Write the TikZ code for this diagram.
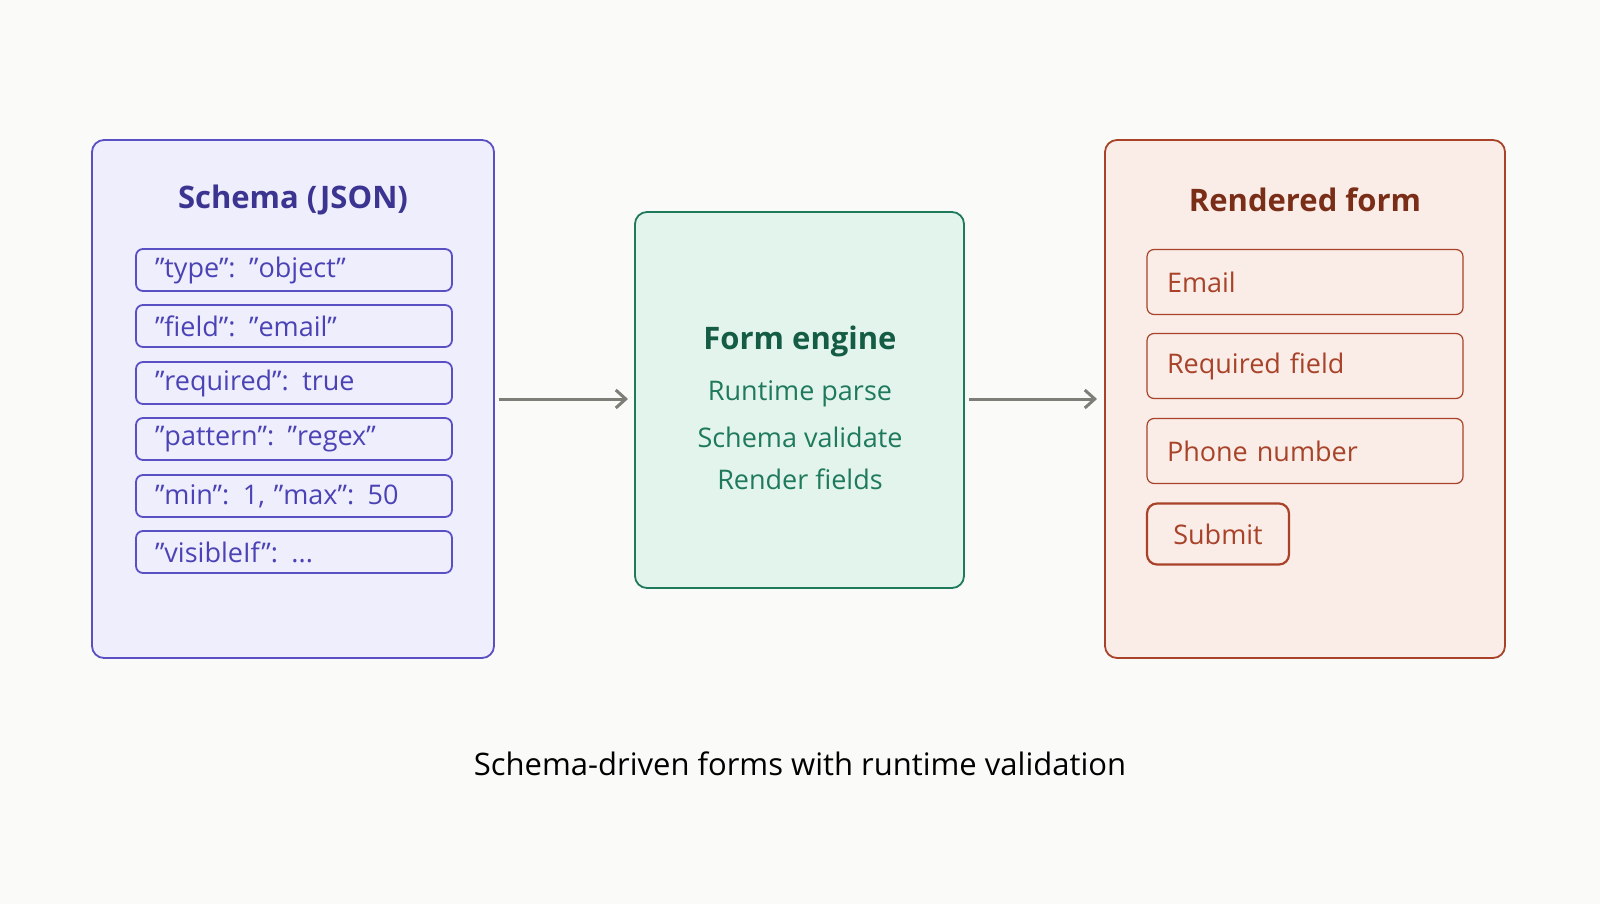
\documentclass[tikz,border=0pt]{standalone}
\usepackage{fontspec}
\setmainfont{Open Sans}
\usetikzlibrary{arrows.meta}
\definecolor{bgc}{HTML}{FAFAF8}
\definecolor{schfill}{HTML}{EEEEFC}
\definecolor{schline}{HTML}{5B4FC4}
\definecolor{schtitle}{HTML}{3B3491}
\definecolor{schtext}{HTML}{4B43B5}
\definecolor{engfill}{HTML}{E2F4EC}
\definecolor{engline}{HTML}{1F7A5C}
\definecolor{engtitle}{HTML}{145C44}
\definecolor{frmfill}{HTML}{FAECE7}
\definecolor{frmline}{HTML}{A8432A}
\definecolor{frmtitle}{HTML}{7A2E18}
\definecolor{arrc}{HTML}{7E7E78}
\newcommand\qt{\char"0022\relax}
\begin{document}
\begin{tikzpicture}[x=1pt,y=-1pt,
  panel/.style={rounded corners=12pt,line width=1.8pt},
  keybox/.style={draw=schline,fill=schfill,rounded corners=7pt,line width=1.8pt,minimum width=316pt,minimum height=42pt,text width=278pt,align=left,inner sep=0pt,text=schtext,font=\fontsize{27}{32}\selectfont},
  fieldbox/.style={draw=frmline,fill=frmfill,rounded corners=7pt,line width=1.2pt,minimum width=316pt,minimum height=65pt,text width=276pt,align=left,inner sep=0pt,text=frmline,font=\fontsize{27}{32}\selectfont},
  flow/.style={-{Straight Barb[length=10pt,width=18pt]},line width=3pt,draw=arrc}]
\fill[bgc] (0,0) rectangle (1600,904);
\useasboundingbox (0,0) rectangle (1600,904);
% Panels
\draw[panel,draw=schline,fill=schfill] (92,140) rectangle (494,658);
\draw[panel,draw=engline,fill=engfill] (635,212) rectangle (964,588);
\draw[panel,draw=frmline,fill=frmfill] (1105,140) rectangle (1505,658);
% Schema
\node[text=schtitle,font=\fontsize{31}{36}\selectfont\bfseries] (schema) at (293,200) {Schema (JSON)};
\node[keybox] (k1) at (294,270) {\qt type\qt: \qt object\qt};
\node[keybox] (k2) at (294,326) {\qt field\qt: \qt email\qt};
\node[keybox] (k3) at (294,383) {\qt required\qt: true};
\node[keybox] (k4) at (294,439) {\qt pattern\qt: \qt regex\qt};
\node[keybox] (k5) at (294,496) {\qt min\qt: 1, \qt max\qt: 50};
\node[keybox] (k6) at (294,552) {\qt visibleIf\qt: ...};
% Engine
\node[text=engtitle,font=\fontsize{31}{36}\selectfont\bfseries] (engine) at (800,341) {Form engine};
\node[text=engline,font=\fontsize{27}{32}\selectfont] (e1) at (800,394) {Runtime parse};
\node[text=engline,font=\fontsize{27}{32}\selectfont] (e2) at (800,437) {Schema validate};
\node[text=engline,font=\fontsize{27}{32}\selectfont] (e3) at (800,479) {Render fields};
% Form
\node[text=frmtitle,font=\fontsize{31}{36}\selectfont\bfseries] (form) at (1305,200) {Rendered form};
\node[fieldbox] (f1) at (1305,282) {Email};
\node[fieldbox] (f2) at (1305,366) {Required field};
\node[fieldbox] (f3) at (1305,451) {Phone number};
\node[fieldbox,line width=2.2pt,minimum width=142pt,minimum height=61pt,text width=,align=center,rounded corners=10pt] (submit) at (1218,534) {Submit};
% Arrows
\coordinate (a1) at (499,399);
\coordinate (b1) at (628,399);
\coordinate (a2) at (969,399);
\coordinate (b2) at (1097,399);
\draw[flow] (a1) -- (b1);
\draw[flow] (a2) -- (b2);
\node[font=\fontsize{31}{36}\selectfont] (caption) at (800,764) {Schema-driven forms with runtime validation};
\end{tikzpicture}
\end{document}
